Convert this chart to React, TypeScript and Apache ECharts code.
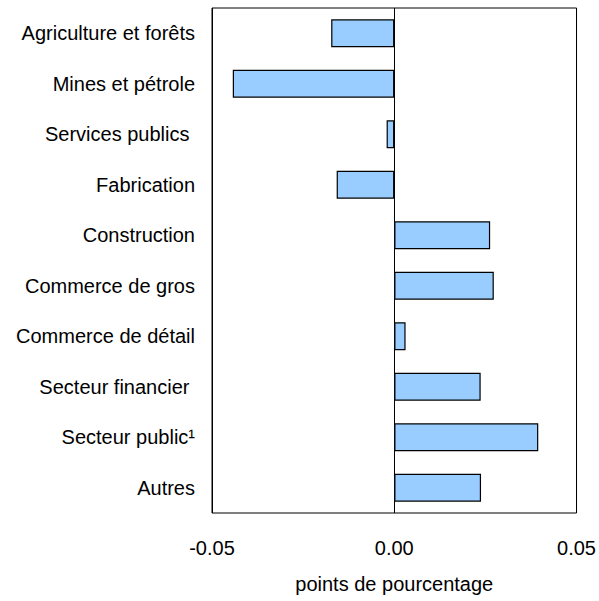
import React, { useEffect, useRef } from "react";
import * as echarts from "echarts";

const categories = [
  "Agriculture et forêts",
  "Mines et pétrole",
  "Services publics ",
  "Fabrication",
  "Construction",
  "Commerce de gros",
  "Commerce de détail",
  "Secteur financier ",
  "Secteur public¹",
  "Autres",
];
const values = [-0.0173, -0.0443, -0.0021, -0.0158, 0.0263, 0.0273, 0.0031, 0.0237, 0.0395, 0.0238];
const xTicks = [-0.05, 0, 0.05];

export default function App() {
  const ref = useRef<HTMLDivElement>(null);
  useEffect(() => {
    if (!ref.current) return;
    const chart = echarts.init(ref.current, undefined, { renderer: "svg" });
    const font = "Liberation Sans, Arial, sans-serif";
    chart.setOption({
      animation: false,
      backgroundColor: "#ffffff",
      grid: {
        left: 212,
        right: 22,
        top: 8,
        bottom: 88,
        show: true,
        borderColor: "#000000",
        borderWidth: 1,
        backgroundColor: "transparent",
      },
      xAxis: {
        type: "value",
        min: xTicks[0],
        max: xTicks[xTicks.length - 1],
        interval: 0.05,
        axisLine: { show: false },
        axisTick: { show: false },
        splitLine: { show: true, lineStyle: { color: "#000000", width: 1 } },
        axisLabel: {
          color: "#000000",
          fontFamily: font,
          fontSize: 20,
          margin: 25,
          formatter: (v: number) => v.toFixed(2),
        },
        name: "points de pourcentage",
        nameLocation: "middle",
        nameGap: 61,
        nameTextStyle: { color: "#000000", fontFamily: font, fontSize: 20 },
      },
      yAxis: {
        type: "category",
        data: categories,
        inverse: true,
        axisLine: { show: false },
        axisTick: { show: false },
        splitLine: { show: false },
        axisLabel: {
          color: "#000000",
          fontFamily: font,
          fontSize: 20,
          margin: 17,
        },
      },
      series: [
        {
          type: "bar",
          data: values,
          barWidth: "55%",
          itemStyle: { color: "#99CCFF", borderColor: "#000000", borderWidth: 1.2 },
        },
      ],
    });
    return () => chart.dispose();
  }, []);
  return <div ref={ref} style={{ width: 599, height: 601, position: "absolute", left: 0, top: 0 }} />;
}
